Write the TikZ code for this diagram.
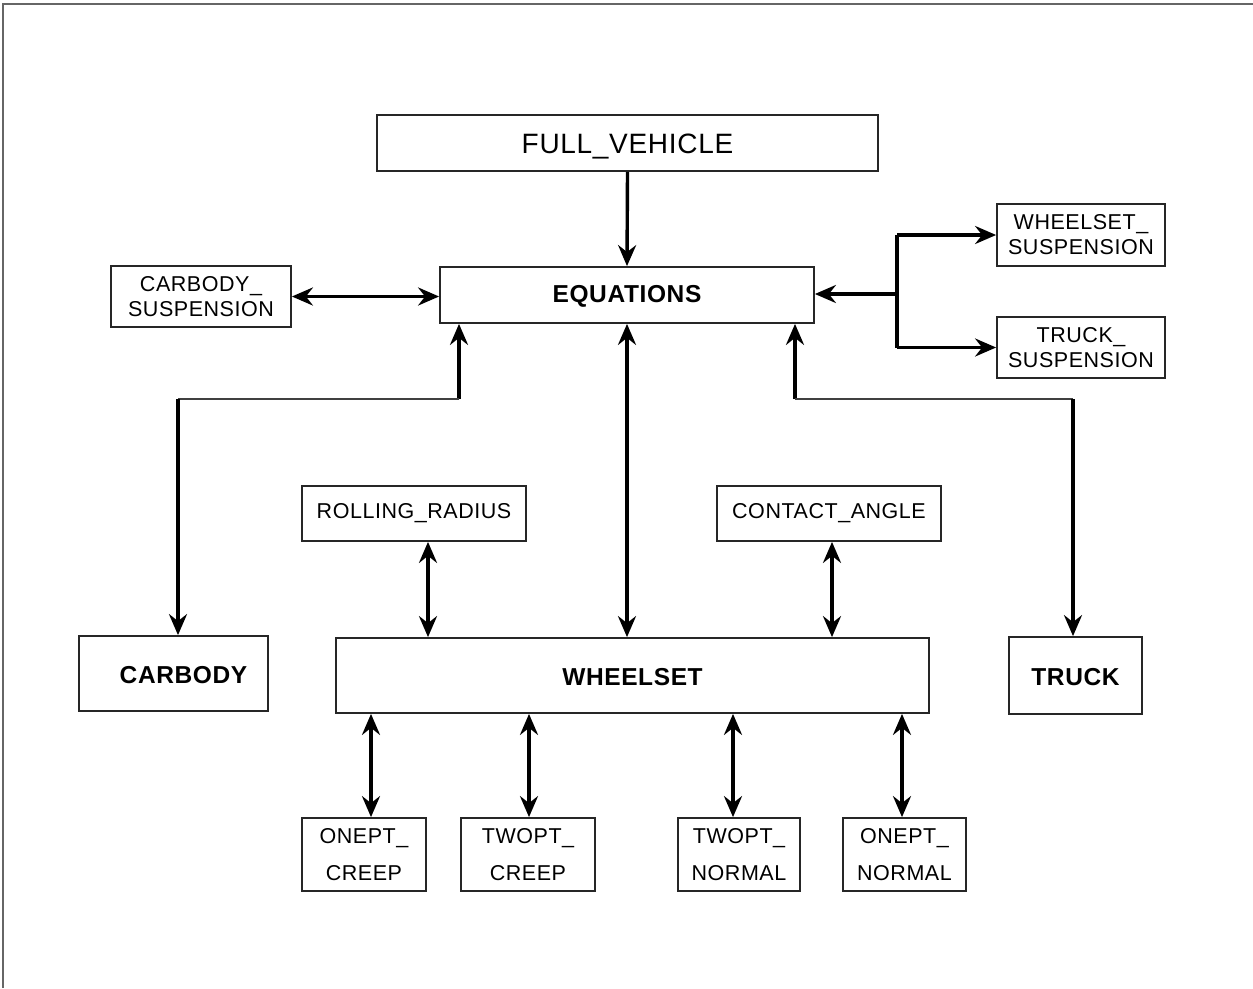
\documentclass[tikz,border=0pt]{standalone}
\usepackage{fontspec}
\setmainfont[LetterSpace=2.5]{Liberation Sans}
\usetikzlibrary{arrows.meta}
% lower a label without changing the size the node sees
\newcommand{\lowerby}[2]{\raisebox{-#1}[\height][\depth]{#2}}
\begin{document}
\begin{tikzpicture}[x=1pt,y=-1pt,
  box/.style={draw=black!85, line width=1.8pt, inner sep=0pt, align=center},
  small/.style={font=\fontsize{21.5}{25}\selectfont},
  tall/.style={font=\fontsize{21.5}{37}\selectfont},
  heavy/.style={font=\fontsize{24.5}{28}\selectfont\bfseries},
  arr/.style={line width=3.4pt, black, >={Stealth[length=21pt,width=18pt,inset=7pt]}},
  link/.style={line width=2.4pt, black!75}]
% page and frame
\useasboundingbox (0,0) rectangle (1253,988);
\draw[line width=2.2pt, black!60] (3,988) -- (3,4) -- (1253,4);

% boxes
\node[box, minimum width=501, minimum height=56, font=\fontsize{28}{30}\selectfont] (fv) at (627.5,143) {\lowerby{4pt}{FULL\_VEHICLE}};
\node[box, minimum width=374, minimum height=56, heavy] (eq) at (627,295) {\lowerby{1.5pt}{EQUATIONS}};
\node[box, minimum width=180, minimum height=61, small] (cs) at (201,296.5) {CARBODY\_\\SUSPENSION};
\node[box, minimum width=168, minimum height=62, small] (wss) at (1081,235) {WHEELSET\_\\SUSPENSION};
\node[box, minimum width=168, minimum height=61, small] (tss) at (1081,347.5) {TRUCK\_\\SUSPENSION};
\node[box, minimum width=224, minimum height=55, small] (rr) at (414,513.5) {ROLLING\_RADIUS};
\node[box, minimum width=224, minimum height=55, small] (ca) at (829,513.5) {CONTACT\_ANGLE};
\node[box, minimum width=189, minimum height=75, heavy] (cb) at (173.5,673.5) {\hspace*{20pt}\lowerby{1.5pt}{CARBODY}};
\node[box, minimum width=593, minimum height=75, heavy] (ws) at (632.5,675.5) {\lowerby{1.5pt}{WHEELSET}};
\node[box, minimum width=133, minimum height=77, heavy] (tr) at (1075.5,675.5) {\lowerby{1.5pt}{TRUCK}};
\node[box, minimum width=124, minimum height=73, tall] (oc) at (364,854.5) {ONEPT\_\\CREEP};
\node[box, minimum width=134, minimum height=73, tall] (tc) at (528,854.5) {TWOPT\_\\CREEP};
\node[box, minimum width=122, minimum height=73, tall] (tn) at (739,854.5) {TWOPT\_\\NORMAL};
\node[box, minimum width=123, minimum height=73, tall] (on) at (904.5,854.5) {ONEPT\_\\NORMAL};

% junction points
\coordinate (jl) at (459,399);
\coordinate (cl) at (178,399);
\coordinate (jr) at (795,399);
\coordinate (tl) at (1073,399);
\coordinate (bj) at (897,294);

% FULL_VEHICLE and suspensions
\draw[arr,->] (fv.south) -- (eq.north);
\draw[arr,<->] (cs.east) -- (cs.east -| eq.west);
\draw[arr,->] (bj) -- (bj -| eq.east);
\draw[arr] (bj |- wss.west) -- (bj |- tss.west);
\draw[arr,->] (bj |- wss.west) -- (wss.west);
\draw[arr,->] (bj |- tss.west) -- (tss.west);

% CARBODY branch
\draw[arr,->] (jl) -- (jl |- eq.south);
\draw[link] (jl) -- (cl);
\draw[arr,->] (cl) -- (cl |- cb.north);

% TRUCK branch
\draw[arr,->] (jr) -- (jr |- eq.south);
\draw[link] (jr) -- (tl);
\draw[arr,->] (tl) -- (tl |- tr.north);

% WHEELSET and its submodels
\draw[arr,<->] (eq.south) -- (eq.south |- ws.north);
\draw[arr,<->] ([xshift=14]rr.south) -- ([xshift=14]rr.south |- ws.north);
\draw[arr,<->] ([xshift=3]ca.south) -- ([xshift=3]ca.south |- ws.north);
\draw[arr,<->] ([xshift=7]oc.north |- ws.south) -- ([xshift=7]oc.north);
\draw[arr,<->] ([xshift=1]tc.north |- ws.south) -- ([xshift=1]tc.north);
\draw[arr,<->] ([xshift=-6]tn.north |- ws.south) -- ([xshift=-6]tn.north);
\draw[arr,<->] ([xshift=-2.5]on.north |- ws.south) -- ([xshift=-2.5]on.north);
\end{tikzpicture}
\end{document}
